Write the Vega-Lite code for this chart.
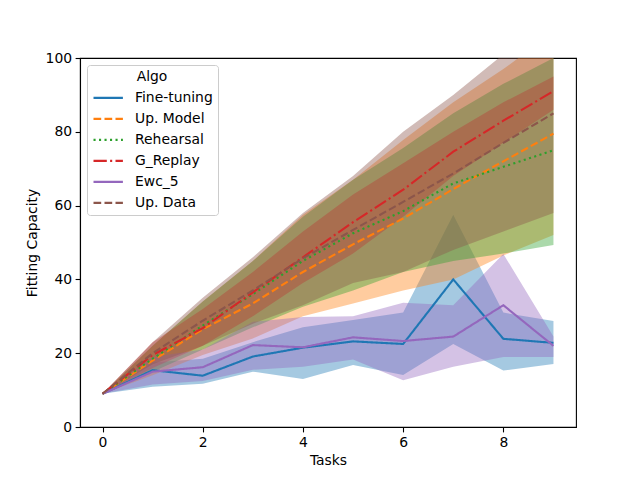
{
  "$schema": "https://vega.github.io/schema/vega-lite/v6.json",
  "width": 496,
  "height": 369,
  "autosize": {"type": "none"},
  "padding": {"left": 80, "top": 58, "right": 64, "bottom": 53},
  "background": "white",
  "config": {
    "font": "DejaVu Sans",
    "view": {"stroke": "black", "strokeWidth": 1.1},
    "axis": {
      "grid": false,
      "domainColor": "black",
      "domainWidth": 1.1,
      "tickColor": "black",
      "tickWidth": 1.1,
      "labelColor": "black",
      "titleColor": "black",
      "tickSize": 4.9,
      "labelPadding": 3.5,
      "labelFontSize": 13.9,
      "titleFontSize": 13.9,
      "titleFontWeight": "normal"
    }
  },
  "data": {
    "values": [
      {"Task": 0, "Algo": "Fine-tuning", "mean": 9, "lo": 9, "hi": 9},
      {"Task": 1, "Algo": "Fine-tuning", "mean": 15.4, "lo": 10.9, "hi": 17.5},
      {"Task": 2, "Algo": "Fine-tuning", "mean": 13.9, "lo": 11.7, "hi": 18.5},
      {"Task": 3, "Algo": "Fine-tuning", "mean": 19.1, "lo": 15, "hi": 23},
      {"Task": 4, "Algo": "Fine-tuning", "mean": 21.5, "lo": 13, "hi": 27},
      {"Task": 5, "Algo": "Fine-tuning", "mean": 23.2, "lo": 16.8, "hi": 29},
      {"Task": 6, "Algo": "Fine-tuning", "mean": 22.5, "lo": 14.1, "hi": 31},
      {"Task": 7, "Algo": "Fine-tuning", "mean": 40, "lo": 22.5, "hi": 57.5},
      {"Task": 8, "Algo": "Fine-tuning", "mean": 23.9, "lo": 15.3, "hi": 31},
      {"Task": 9, "Algo": "Fine-tuning", "mean": 22.8, "lo": 17.1, "hi": 28.7},
      {"Task": 0, "Algo": "Up. Model", "mean": 9, "lo": 9, "hi": 9},
      {"Task": 1, "Algo": "Up. Model", "mean": 18, "lo": 14, "hi": 22},
      {"Task": 2, "Algo": "Up. Model", "mean": 26.5, "lo": 19.5, "hi": 34},
      {"Task": 3, "Algo": "Up. Model", "mean": 33.5, "lo": 24, "hi": 45},
      {"Task": 4, "Algo": "Up. Model", "mean": 42, "lo": 30, "hi": 57.5},
      {"Task": 5, "Algo": "Up. Model", "mean": 49.5, "lo": 33.5, "hi": 67},
      {"Task": 6, "Algo": "Up. Model", "mean": 56.5, "lo": 37, "hi": 77.8},
      {"Task": 7, "Algo": "Up. Model", "mean": 64.5, "lo": 40, "hi": 88},
      {"Task": 8, "Algo": "Up. Model", "mean": 72, "lo": 46.5, "hi": 97},
      {"Task": 9, "Algo": "Up. Model", "mean": 79.5, "lo": 52, "hi": 107},
      {"Task": 0, "Algo": "Rehearsal", "mean": 9, "lo": 9, "hi": 9},
      {"Task": 1, "Algo": "Rehearsal", "mean": 18.5, "lo": 15, "hi": 22},
      {"Task": 2, "Algo": "Rehearsal", "mean": 27.5, "lo": 21, "hi": 34},
      {"Task": 3, "Algo": "Rehearsal", "mean": 36, "lo": 27, "hi": 45},
      {"Task": 4, "Algo": "Rehearsal", "mean": 45, "lo": 32.6, "hi": 57},
      {"Task": 5, "Algo": "Rehearsal", "mean": 52.5, "lo": 37, "hi": 67},
      {"Task": 6, "Algo": "Rehearsal", "mean": 58.5, "lo": 42, "hi": 75.6},
      {"Task": 7, "Algo": "Rehearsal", "mean": 66, "lo": 45, "hi": 85},
      {"Task": 8, "Algo": "Rehearsal", "mean": 70.5, "lo": 47, "hi": 93},
      {"Task": 9, "Algo": "Rehearsal", "mean": 75, "lo": 49.3, "hi": 100},
      {"Task": 0, "Algo": "G_Replay", "mean": 9, "lo": 9, "hi": 9},
      {"Task": 1, "Algo": "G_Replay", "mean": 19.5, "lo": 16, "hi": 23},
      {"Task": 2, "Algo": "G_Replay", "mean": 26.8, "lo": 22, "hi": 32},
      {"Task": 3, "Algo": "G_Replay", "mean": 36.5, "lo": 30, "hi": 42},
      {"Task": 4, "Algo": "G_Replay", "mean": 46, "lo": 39, "hi": 53},
      {"Task": 5, "Algo": "G_Replay", "mean": 55.5, "lo": 47, "hi": 63},
      {"Task": 6, "Algo": "G_Replay", "mean": 64.3, "lo": 57, "hi": 71.5},
      {"Task": 7, "Algo": "G_Replay", "mean": 74.6, "lo": 68, "hi": 80},
      {"Task": 8, "Algo": "G_Replay", "mean": 83, "lo": 77, "hi": 88},
      {"Task": 9, "Algo": "G_Replay", "mean": 91, "lo": 86, "hi": 95},
      {"Task": 0, "Algo": "Ewc_5", "mean": 9, "lo": 9, "hi": 9},
      {"Task": 1, "Algo": "Ewc_5", "mean": 15, "lo": 11.5, "hi": 19},
      {"Task": 2, "Algo": "Ewc_5", "mean": 16.2, "lo": 12.5, "hi": 21},
      {"Task": 3, "Algo": "Ewc_5", "mean": 22.2, "lo": 15.5, "hi": 28.5},
      {"Task": 4, "Algo": "Ewc_5", "mean": 21.6, "lo": 16.3, "hi": 29.8},
      {"Task": 5, "Algo": "Ewc_5", "mean": 24.3, "lo": 18.3, "hi": 30},
      {"Task": 6, "Algo": "Ewc_5", "mean": 23.3, "lo": 12.7, "hi": 33.7},
      {"Task": 7, "Algo": "Ewc_5", "mean": 24.5, "lo": 16.3, "hi": 33},
      {"Task": 8, "Algo": "Ewc_5", "mean": 33, "lo": 19, "hi": 46.9},
      {"Task": 9, "Algo": "Ewc_5", "mean": 22, "lo": 19, "hi": 24.5},
      {"Task": 0, "Algo": "Up. Data", "mean": 9, "lo": 9, "hi": 9},
      {"Task": 1, "Algo": "Up. Data", "mean": 20, "lo": 17, "hi": 23},
      {"Task": 2, "Algo": "Up. Data", "mean": 28.8, "lo": 22, "hi": 35},
      {"Task": 3, "Algo": "Up. Data", "mean": 37, "lo": 28, "hi": 46},
      {"Task": 4, "Algo": "Up. Data", "mean": 45.7, "lo": 33, "hi": 58},
      {"Task": 5, "Algo": "Up. Data", "mean": 53.4, "lo": 39, "hi": 68},
      {"Task": 6, "Algo": "Up. Data", "mean": 61, "lo": 42, "hi": 80},
      {"Task": 7, "Algo": "Up. Data", "mean": 68.7, "lo": 48, "hi": 90},
      {"Task": 8, "Algo": "Up. Data", "mean": 77, "lo": 53, "hi": 101},
      {"Task": 9, "Algo": "Up. Data", "mean": 85, "lo": 58, "hi": 112}
    ]
  },
  "layer": [
    {
      "mark": {"type": "area", "fillOpacity": 0.4, "clip": true},
      "encoding": {
        "x": {
          "field": "Task",
          "type": "quantitative",
          "scale": {"domain": [-0.45, 9.45], "nice": false, "zero": false},
          "axis": {"title": "Tasks", "values": [0, 2, 4, 6, 8], "titlePadding": 4}
        },
        "y": {
          "field": "lo",
          "type": "quantitative",
          "scale": {"domain": [0, 100], "nice": false},
          "axis": {"title": "Fitting Capacity", "values": [0, 20, 40, 60, 80, 100], "titlePadding": 6}
        },
        "y2": {"field": "hi"},
        "color": {
          "field": "Algo",
          "type": "nominal",
          "scale": {
            "domain": ["Fine-tuning", "Up. Model", "Rehearsal", "G_Replay", "Ewc_5", "Up. Data"],
            "range": ["#1f77b4", "#ff7f0e", "#2ca02c", "#d62728", "#9467bd", "#8c564b"]
          }
        }
      }
    },
    {
      "mark": {"type": "line", "strokeWidth": 2.1, "clip": true},
      "encoding": {
        "x": {"field": "Task", "type": "quantitative"},
        "y": {"field": "mean", "type": "quantitative"},
        "color": {
          "field": "Algo",
          "type": "nominal",
          "legend": {
            "title": "Algo",
            "orient": "none",
            "legendX": 7,
            "legendY": 7,
            "symbolType": "M-1,0H1.8",
            "symbolSize": 441,
            "symbolStrokeWidth": 2.1,
            "symbolOpacity": 1,
            "symbolFillColor": "transparent",
            "labelFontSize": 13.9,
            "labelOffset": 19,
            "labelColor": "black",
            "titleFontSize": 13.9,
            "titleFontWeight": "normal",
            "titleColor": "black",
            "titleAnchor": "middle",
            "titlePadding": 2,
            "rowPadding": 2,
            "padding": 5,
            "cornerRadius": 3,
            "strokeColor": "#cccccc",
            "fillColor": "rgba(255,255,255,0.8)"
          }
        },
        "strokeDash": {
          "field": "Algo",
          "type": "nominal",
          "scale": {
            "domain": ["Fine-tuning", "Up. Model", "Rehearsal", "G_Replay", "Ewc_5", "Up. Data"],
            "range": [[1, 0], [7.7, 3.3], [2.1, 3.4], [13.3, 3.3, 2.1, 3.3], [1, 0], [7.7, 3.3]]
          }
        }
      }
    }
  ]
}
